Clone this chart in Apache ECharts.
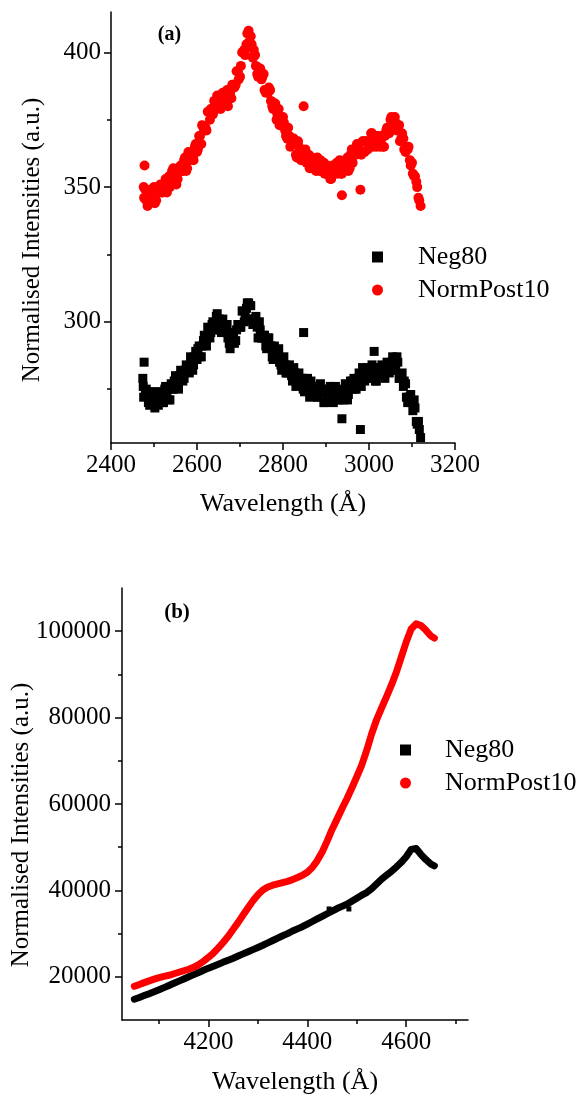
<!DOCTYPE html>
<html><head><meta charset="utf-8">
<script src="https://cdn.jsdelivr.net/npm/echarts/dist/echarts.min.js"></script>
<style>html,body{margin:0;padding:0;background:#fff}#c{width:578px;height:1102px}</style>
</head><body><div id="c"></div>
<script>
const FONT = '"Liberation Serif","Times New Roman",serif';

// Panel (a)
const xA = [2480,2485,2490,2495,2500,2505,2510,2515,2520,2525,2530,2535,
2540,2545,2550,2555,2560,2565,2570,2575,2580,2585,2590,2595,
2600,2605,2610,2615,2620,2625,2630,2635,2640,2645,2650,2655,
2660,2665,2670,2675,2680,2685,2690,2695,2700,2705,2710,2715,
2720,2725,2730,2735,2740,2745,2750,2755,2760,2765,2770,2775,
2780,2785,2790,2795,2800,2805,2810,2815,2820,2825,2830,2835,
2840,2845,2850,2855,2860,2865,2870,2875,2880,2885,2890,2895,
2900,2905,2910,2915,2920,2925,2930,2935,2940,2945,2950,2955,
2960,2965,2970,2975,2980,2985,2990,2995,3000,3005,3010,3015,
3020,3025,3030,3035,3040,3045,3050,3055,3060,3065,3070,3075,
3080,3085,3090,3095,3100,3105,3110,3115,3120];
const postA = [349,343,347,345,350,345,348,351,348,351,348,354,
352,357,354,353,357,356,360,356,363,361,361,365,
363,369,366,372,372,378,375,379,382,379,383,379,
385,382,386,384,383,388,388,393,391,400,401,403,
408,406,398,399,392,394,390,392,385,385,386,380,
381,375,379,374,376,371,368,369,366,368,362,367,
363,361,363,359,362,357,360,358,361,356,357,359,
355,357,353,358,355,359,357,355,359,357,361,357,
364,362,362,365,363,367,363,367,366,370,365,367,
369,365,369,365,371,370,375,374,376,371,373,368,
368,363,364,360,359,354,352,346,343];
const negA = [273,274,269,272,271,274,269,273,270,275,274,271,
277,275,280,276,280,280,279,284,282,287,282,287,
286,291,287,293,293,298,294,299,297,302,300,297,
301,296,299,292,294,294,293,299,298,304,300,305,
307,306,299,301,298,300,294,295,291,294,291,287,
291,287,290,284,286,284,281,284,280,283,276,280,
277,279,274,277,276,278,273,275,272,276,274,270,
275,272,276,271,274,273,271,275,272,277,271,276,
275,279,275,279,279,283,278,282,279,283,281,278,
283,280,284,280,283,283,282,287,284,287,279,280,
276,277,270,272,270,271,263,263,257];
// second reading, between the points above
const xA2 = [2482,2487,2492,2497,2502,2507,2512,2517,2522,2527,2532,2537,
2542,2547,2552,2557,2562,2567,2572,2577,2582,2587,2592,2597,
2602,2607,2612,2617,2622,2627,2632,2637,2642,2647,2652,2657,
2662,2667,2672,2677,2682,2687,2692,2697,2702,2707,2712,2717,
2722,2727,2732,2737,2742,2747,2752,2757,2762,2767,2772,2777,
2782,2787,2792,2797,2802,2807,2812,2817,2822,2827,2832,2837,
2842,2847,2852,2857,2862,2867,2872,2877,2882,2887,2892,2897,
2902,2907,2912,2917,2922,2927,2932,2937,2942,2947,2952,2957,
2962,2967,2972,2977,2982,2987,2992,2997,3002,3007,3012,3017,
3022,3027,3032,3037,3042,3047,3052,3057,3062,3067,3072,3077,
3082,3087,3092,3097,3102,3107,3112,3117];
const postA2 = [345,347,349,345,344,349,350,348,350,353,350,350,
356,354,351,357,358,356,361,357,360,362,360,366,
364,369,373,371,371,378,379,377,380,384,381,380,
385,383,380,385,388,387,393,390,395,400,399,407,
404,403,401,395,391,394,391,386,386,387,382,379,
381,377,373,375,374,369,372,365,366,366,361,365,
360,363,364,359,357,361,360,356,358,360,356,355,
358,356,353,357,358,355,360,355,358,359,356,362,
359,363,366,363,362,367,367,364,367,370,366,365,
369,367,365,369,372,370,376,372,374,373,367,370,
364,365,365,358,355,354,350,345];
const negA2 = [275,270,272,274,268,272,270,274,270,276,275,271,
275,278,276,275,282,278,282,282,281,286,284,289,
290,287,291,295,291,296,296,300,297,303,301,296,
298,298,294,290,296,292,297,298,298,304,302,307,
306,301,301,302,294,297,294,295,290,294,291,286,
288,289,285,282,287,281,283,281,278,281,278,281,
279,275,276,279,272,276,273,276,272,277,274,270,
273,275,272,270,276,271,274,273,271,276,273,278,
278,275,278,281,276,281,279,283,279,284,282,278,
281,283,280,279,285,281,285,285,282,285,279,281,
278,272,272,273,267,268,262,260];
const negAOut = [[2474,279],[2475,276],[2476,272],[2477,285],[2848,296],[2937,264],[2980,260],[3012,289]];
const postAOut = [[2476,350],[2477,346],[2478,358],[2848,380],[2937,347],[2980,349]];

// Panel (b)
const xB = [4050,4060,4070,4080,4090,4100,4110,4120,4130,4140,4150,4160,4170,4180,4190,
4200,4210,4220,4230,4240,4250,4260,4270,4280,4290,4300,4310,4320,4330,4340,4350,
4360,4370,4380,4390,4400,4410,4420,4430,4440,4450,4460,4470,4480,4490,4500,4510,
4520,4530,4540,4550,4560,4570,4580,4590,4600,4610,4620,4630,4640,4650,4657];
const postB = [17800,18200,18650,19050,19450,19800,20100,20350,20700,21050,21400,21750,22200,22800,23600,
24500,25500,26700,28000,29400,31000,32600,34300,36000,37600,39000,40100,40800,41200,41500,41800,
42100,42500,43000,43500,44200,45300,46900,48900,51400,54100,56500,58900,61200,63700,66300,69000,
72400,76200,79500,82200,84800,87500,90500,94000,97500,100500,101700,101300,100200,98900,98400];
const negB = [14800,15200,15650,16100,16550,17000,17500,18000,18500,19000,19500,20000,20500,21000,21500,
22000,22450,22900,23400,23850,24300,24800,25300,25800,26300,26800,27300,27850,28400,28950,29500,
30000,30600,31100,31600,32200,32800,33400,34000,34600,35200,35800,36300,36800,37500,38200,38900,
39500,40400,41500,42600,43500,44400,45400,46500,47800,49500,49700,48300,47100,46100,45700];
const negBOut = [[4444,35700],[4484,35700]];

const xTicksA = [2400,2600,2800,3000,3200], xMinorA = [2500,2700,2900,3100];
const yTicksA = [300,350,400], yMinorA = [275,325,375];
const xTicksB = [4200,4400,4600], xMinorB = [4100,4300,4500,4700];
const yTicksB = [20000,40000,60000,80000,100000], yMinorB = [30000,50000,70000,90000];

const pair = (xs, ys) => ys.map((v, i) => [xs[i], v]);
const ax = {lineStyle:{color:'#000', width:1.5}};
const lbl = (vals, margin) => ({customValues: vals, margin: margin, color:'#000', fontSize:25,
  fontFamily:FONT, formatter: v => String(v)});
const tick = (vals, len) => ({show:true, customValues: vals, length: len, inside:false, lineStyle:{color:'#000', width:1.5}});
function mainAxis(grid, min, max, ticks, margin, extra) {
  return Object.assign({gridIndex:grid, type:'value', min:min, max:max, axisLine:ax,
    axisTick:tick(ticks,7), axisLabel:lbl(ticks, margin), splitLine:{show:false}}, extra || {});
}
function minorAxis(grid, min, max, ticks) {
  return {gridIndex:grid, type:'value', min:min, max:max, axisLine:{show:false},
    axisTick:tick(ticks,4), axisLabel:{show:false}, splitLine:{show:false}};
}
const gA = {left:111, top:12, width:344, height:431};
const gB = {left:122, top:588, width:346, height:432};

const chart = echarts.init(document.getElementById('c'), null, {renderer:'canvas'});
chart.setOption({
  animation:false,
  grid:[gA, gB, Object.assign({}, gA), Object.assign({}, gB)],
  xAxis:[
    mainAxis(0, 2400, 3200, xTicksA, 10, {name:'Wavelength (Å)', nameLocation:'middle', nameGap:48,
      nameTextStyle:{color:'#000', fontSize:26, fontFamily:FONT}}),
    mainAxis(1, 4025, 4725, xTicksB, 10, {name:'Wavelength (Å)', nameLocation:'middle', nameGap:49,
      nameTextStyle:{color:'#000', fontSize:26, fontFamily:FONT}}),
    minorAxis(2, 2400, 3200, xMinorA),
    minorAxis(3, 4025, 4725, xMinorB)
  ],
  yAxis:[
    mainAxis(0, 255, 415, yTicksA, 10),
    mainAxis(1, 10000, 110000, yTicksB, 11),
    minorAxis(2, 255, 415, yMinorA),
    minorAxis(3, 10000, 110000, yMinorB)
  ],
  legend:[
    {data:[{name:'Neg80', icon:'rect'},{name:'NormPost10', icon:'circle'}], orient:'vertical',
     left:367, top:239, itemWidth:11, itemHeight:11, itemGap:7, selectedMode:false,
     textStyle:{color:'#000', fontSize:26, fontFamily:FONT, lineHeight:26, padding:[0,0,0,30]}},
    {data:[{name:'Neg80', icon:'rect'},{name:'NormPost10', icon:'circle'}], orient:'vertical',
     left:395, top:732, itemWidth:11, itemHeight:11, itemGap:7, selectedMode:false,
     textStyle:{color:'#000', fontSize:26, fontFamily:FONT, lineHeight:26, padding:[0,0,0,29]}}
  ],
  series:[
    {type:'scatter', name:'Neg80', xAxisIndex:0, yAxisIndex:0, symbol:'rect', symbolSize:9,
     itemStyle:{color:'#000', opacity:1},
     data: pair(xA, negA).concat(pair(xA2, negA2), negAOut)},
    {type:'scatter', name:'NormPost10', xAxisIndex:0, yAxisIndex:0, symbol:'circle', symbolSize:10,
     itemStyle:{color:'#ff0000', opacity:1},
     data: pair(xA, postA).concat(pair(xA2, postA2), postAOut)},
    {type:'line', name:'Neg80', xAxisIndex:1, yAxisIndex:1, symbol:'none', showSymbol:false,
     itemStyle:{color:'#000'}, lineStyle:{color:'#000', width:7, cap:'round', join:'round'}, data: pair(xB, negB)},
    {type:'line', name:'NormPost10', xAxisIndex:1, yAxisIndex:1, symbol:'none', showSymbol:false,
     itemStyle:{color:'#ff0000'}, lineStyle:{color:'#ff0000', width:7, cap:'round', join:'round'}, data: pair(xB, postB)},
    {type:'scatter', name:'Neg80', xAxisIndex:1, yAxisIndex:1, symbol:'rect', symbolSize:5,
     itemStyle:{color:'#000', opacity:1}, data: negBOut}
  ],
  graphic:[
    {type:'text', x:32, y:240, rotation:Math.PI/2, style:{text:'Normalised Intensities (a.u.)',
      fontSize:25, fontFamily:FONT, fill:'#000', align:'center', verticalAlign:'middle'}},
    {type:'text', x:21, y:825, rotation:Math.PI/2, style:{text:'Normalised Intensities (a.u.)',
      fontSize:25, fontFamily:FONT, fill:'#000', align:'center', verticalAlign:'middle'}},
    {type:'text', x:169.5, y:35, style:{text:'(a)', fontSize:20, fontWeight:'bold', fontFamily:FONT,
      fill:'#000', align:'center', verticalAlign:'middle'}},
    {type:'text', x:177, y:613, style:{text:'(b)', fontSize:21, fontWeight:'bold', fontFamily:FONT,
      fill:'#000', align:'center', verticalAlign:'middle'}}
  ]
});
</script></body></html>
